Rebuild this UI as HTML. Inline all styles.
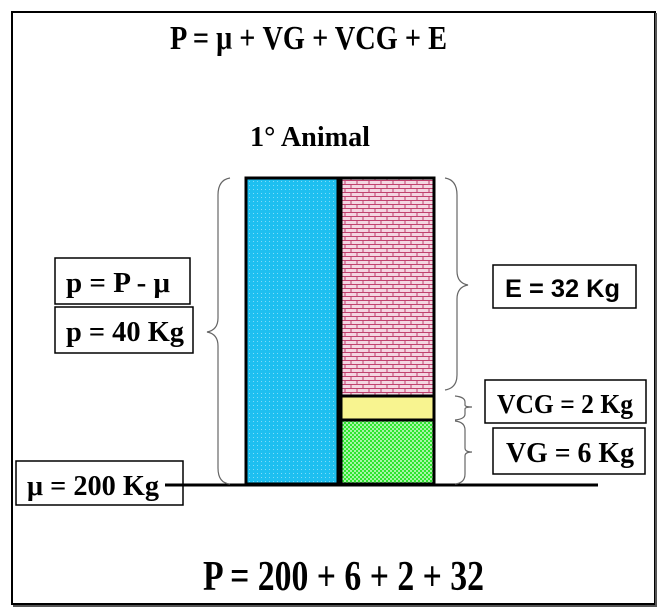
<!DOCTYPE html>
<html><head><style>body{margin:0;background:#fff}svg{display:block}</style></head><body>
<svg width="664" height="615" xmlns="http://www.w3.org/2000/svg">
<defs>
<pattern id="dots" width="4" height="4" patternUnits="userSpaceOnUse"><rect width="4" height="4" fill="#1ebff0"/><rect x="1" y="1" width="1" height="1" fill="#7fdcf8"/></pattern>
<pattern id="brick" width="12" height="8" patternUnits="userSpaceOnUse"><rect width="12" height="8" fill="#f4d6e2"/><path d="M0 0.5H12M0 4.5H12M3 0V4M9 4V8" stroke="#c0406e" stroke-width="1" fill="none"/></pattern>
<pattern id="chk" width="4" height="4" patternUnits="userSpaceOnUse"><rect width="4" height="4" fill="#2ee62e"/><rect x="0" y="0" width="2" height="2" fill="#a8f5a8"/><rect x="2" y="2" width="2" height="2" fill="#a8f5a8"/></pattern>
</defs>
<rect x="0" y="0" width="664" height="615" fill="#fff"/>
<rect x="12" y="12" width="643" height="592" fill="none" stroke="#000" stroke-width="2"/>
<line x1="656" y1="13" x2="656" y2="606" stroke="#555" stroke-width="2"/>
<line x1="13" y1="606" x2="657" y2="606" stroke="#555" stroke-width="2"/>
<g font-family="Liberation Serif, serif" font-weight="bold" fill="#000">
<text x="170" y="49" font-size="34" textLength="277" lengthAdjust="spacingAndGlyphs">P = μ + VG + VCG + E</text>
<text x="250" y="146" font-size="28" textLength="120" lengthAdjust="spacingAndGlyphs">1° Animal</text>
<text x="203" y="590" font-size="42" textLength="281" lengthAdjust="spacingAndGlyphs">P = 200 + 6 + 2 + 32</text>
</g>
<rect x="246" y="178" width="92" height="306" fill="url(#dots)" stroke="#000" stroke-width="3"/>
<rect x="341" y="178" width="93" height="218" fill="url(#brick)" stroke="#000" stroke-width="3"/>
<rect x="341" y="396" width="93" height="24" fill="#f8f490" stroke="#000" stroke-width="3"/>
<rect x="341" y="420" width="93" height="64" fill="url(#chk)" stroke="#000" stroke-width="3"/>
<line x1="183" y1="485" x2="598" y2="485" stroke="#000" stroke-width="3"/>
<g fill="none" stroke="#666" stroke-width="1.2">
<path d="M230 178 Q218 180 218 195 V318 Q218 330 207 332 Q218 334 218 346 V468 Q218 483 230 484"/>
<path d="M445 178 Q457 180 457 195 V271 Q457 283 468 285 Q457 287 457 299 V375 Q457 388 445 390"/>
<path d="M455 396 Q465 397 465 402 V405 Q465 407 472 407 Q465 407 465 409 V414 Q465 419 455 420"/>
<path d="M455 421 Q465 422 465 430 V448 Q465 452 472 452 Q465 452 465 456 V474 Q465 483 455 484"/>
</g>
<g font-family="Liberation Serif, serif" font-weight="bold" fill="#000" font-size="29">
<rect x="55" y="258" width="135" height="46" fill="#fff" stroke="#000" stroke-width="1.5"/>
<text x="66" y="292" textLength="104" lengthAdjust="spacingAndGlyphs">p = P - μ</text>
<rect x="55" y="307" width="138" height="46" fill="#fff" stroke="#000" stroke-width="1.5"/>
<text x="66" y="341" textLength="118" lengthAdjust="spacingAndGlyphs">p = 40 Kg</text>
<rect x="16" y="461" width="167" height="44" fill="#fff" stroke="#000" stroke-width="1.5"/>
<text x="27" y="495" textLength="132" lengthAdjust="spacingAndGlyphs">μ = 200 Kg</text>
<line x1="165" y1="485" x2="183" y2="485" stroke="#000" stroke-width="3"/>
<rect x="485" y="380" width="161" height="43" fill="#fff" stroke="#000" stroke-width="1.5"/>
<text x="497" y="413" font-size="27" textLength="136" lengthAdjust="spacingAndGlyphs">VCG = 2 Kg</text>
<rect x="493" y="428" width="152" height="46" fill="#fff" stroke="#000" stroke-width="1.5"/>
<text x="506" y="462" textLength="128" lengthAdjust="spacingAndGlyphs">VG = 6 Kg</text>
</g>
<rect x="493" y="265" width="143" height="43" fill="#fff" stroke="#000" stroke-width="1.5"/>
<text x="505" y="297" font-family="Liberation Sans, sans-serif" font-weight="bold" font-size="25" textLength="115" lengthAdjust="spacingAndGlyphs">E = 32 Kg</text>
</svg>
</body></html>
